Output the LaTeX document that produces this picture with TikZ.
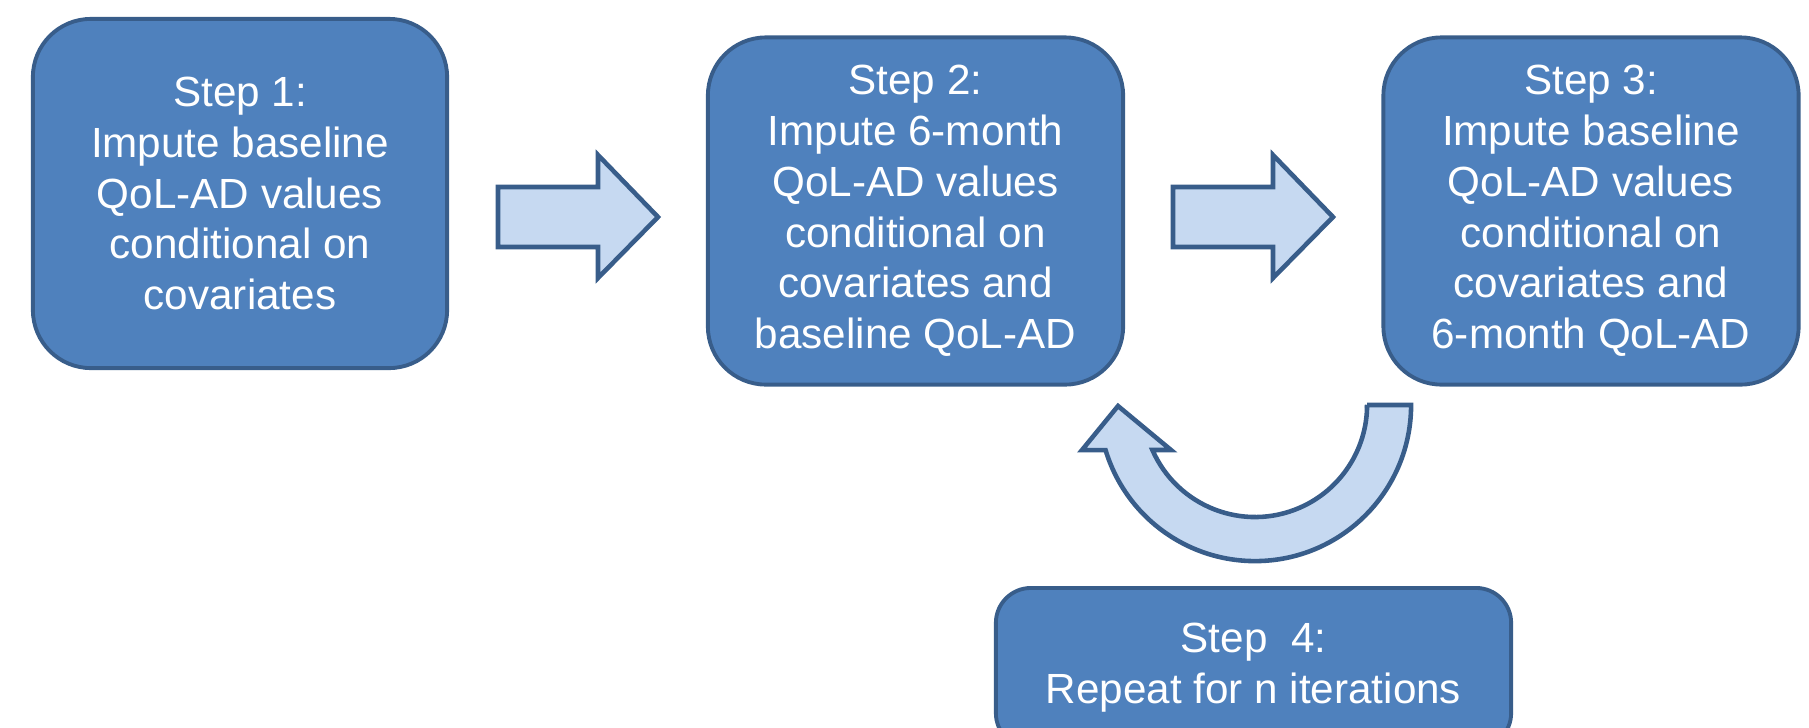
\documentclass[tikz,border=0pt]{standalone}
\usepackage{fontspec}
\setmainfont{Liberation Sans}
\definecolor{boxfill}{HTML}{4F81BD}
\definecolor{boxedge}{HTML}{385D8A}
\definecolor{arrowfill}{HTML}{C6D9F1}
\begin{document}
\begin{tikzpicture}[x=0.01cm, y=0.01cm]
		    \tikzset{
   			stepbox/.style={draw=boxedge, fill=boxfill, line width=1.1pt, rounded corners=0.58cm, text=white, align=center, inner sep=0pt, font=\fontsize{12}{14.45}\selectfont},
    		blockarrow/.style={draw=boxedge, fill=arrowfill, line width=1.3pt, line join=miter}
		    }
            \useasboundingbox (0,0) rectangle (1809,-727);

   	        \draw node[stepbox, minimum width=4.14cm, minimum height=3.49cm] (s1) at (240,-193.5) {Step 1:\\Impute baseline\\QoL-AD values\\conditional on\\covariates};
            \draw node[stepbox, minimum width=4.15cm, minimum height=3.47cm] (s2) at (915.5,-211) {Step 2:\\Impute 6-month\\QoL-AD values\\conditional on\\covariates and\\baseline QoL-AD};
            \draw node[stepbox, minimum width=4.15cm, minimum height=3.47cm] (s3) at (1591,-211) {Step 3:\\Impute baseline\\QoL-AD values\\conditional on\\covariates and\\6-month QoL-AD};
            \draw node[stepbox, rounded corners=0.35cm, minimum width=5.15cm, minimum height=1.6cm] (s4) at (1253.5,-668) {Step\ \ 4:\\Repeat for n iterations};

            % arrows s1 -> s2 and s2 -> s3
            \foreach \x in {498,1173}{
            \draw[blockarrow] (\x,-187) -- ++(100,0) -- ++(0,32) -- ++(60,-62) -- ++(-60,-61) -- ++(0,31) -- ++(-100,0) -- cycle;
            }

            % loop back from s3 to s2
            \coordinate (loopc) at (1255,-405);
            \draw[blockarrow] ([xshift=1.12cm]loopc) -- ([xshift=1.56cm]loopc)
                arc[start angle=0, end angle=-163.2, radius=1.56cm]
                -- (1082,-450) -- (1118,-406) -- (1171,-450) -- (1152.4,-450)
                arc[start angle=-156.3, end angle=0, radius=1.12cm] -- cycle;
	    \end{tikzpicture}
\end{document}
